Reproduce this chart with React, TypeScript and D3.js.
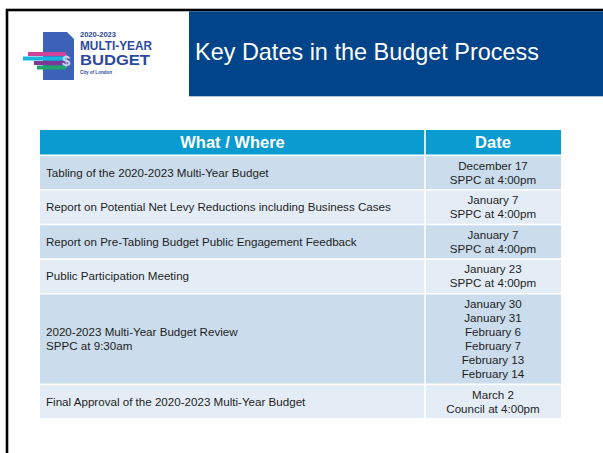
import React from "react";
import * as d3 from "d3";

const title = "Key Dates in the Budget Process";
const headers = ["What / Where", "Date"];
const events: string[][] = [
  ["Tabling of the 2020-2023 Multi-Year Budget"],
  ["Report on Potential Net Levy Reductions including Business Cases"],
  ["Report on Pre-Tabling Budget Public Engagement Feedback"],
  ["Public Participation Meeting"],
  ["2020-2023 Multi-Year Budget Review", "SPPC at 9:30am"],
  ["Final Approval of the 2020-2023 Multi-Year Budget"],
];
const dates: string[][] = [
  ["December 17", "SPPC at 4:00pm"],
  ["January 7", "SPPC at 4:00pm"],
  ["January 7", "SPPC at 4:00pm"],
  ["January 23", "SPPC at 4:00pm"],
  ["January 30", "January 31", "February 6", "February 7", "February 13", "February 14"],
  ["March 2", "Council at 4:00pm"],
];
const logoLines = ["2020-2023", "MULTI-YEAR", "BUDGET", "City of London"];

const W = 603;
const H = 453;
const FONT = "'Liberation Sans', Arial, sans-serif";

export default function App() {
  const tableX = 40;
  const splitX = 425;
  const tableR = 561;
  const headerTop = 130;
  const headerH = 24.5;
  const gap = 1.6;
  const lineH = 14;
  const bodySize = 11.6;

  const rowHeights = events.map((e, i) => Math.max(e.length, dates[i].length) * lineH + 5);
  const rowTops: number[] = [];
  let y = headerTop + headerH + gap;
  rowHeights.forEach((h) => {
    rowTops.push(y);
    y += h + gap;
  });

  const colX = d3.scaleOrdinal<string, number>().domain(headers).range([tableX, splitX]);
  const colW = (k: number) => (k === 0 ? splitX - tableX : tableR - splitX);

  const stripeColors = ["#d0439a", "#19b4e0", "#7c3a96", "#22a36b"];

  return (
    <svg width={W} height={H} style={{ position: "absolute", left: 0, top: 0, background: "#fff" }}>
      <rect x={0} y={0} width={W} height={H} fill="#fff" />
      {/* slide frame */}
      <rect x={7} y={10} width={W + 20} height={H + 20} fill="none" stroke="#000" strokeWidth={2.6} />
      {/* title banner */}
      <rect x={189} y={11.3} width={W - 189} height={85} fill="#01448a" />
      <text x={195} y={60} fill="#fff" fontFamily={FONT} fontSize={24} textLength={344} lengthAdjust="spacingAndGlyphs">
        {title}
      </text>

      {/* logo */}
      <g>
        <path d="M43,32 L67,32 L74,39 L74,80 L43,80 Z" fill="#3b62b6" />
        {stripeColors.map((c, i) => (
          <path
            key={i}
            d={`M${28 + (i === 1 ? -5 : i * 3)},${52 + i * 4.5} L66,${52 + i * 4.5} L66,${56 + i * 4.5} L${28 + (i === 1 ? -5 : i * 3)},${56 + i * 4.5} Z`}
            fill={c}
          />
        ))}
        <text x={62} y={66} fill="#c9d3f0" fontFamily={FONT} fontWeight="bold" fontSize={15}>$</text>
        <text x={80} y={37} fill="#2b4a9e" fontFamily={FONT} fontWeight="bold" fontSize={6.5} textLength={36} lengthAdjust="spacingAndGlyphs">{logoLines[0]}</text>
        <text x={80} y={50} fill="#2b4a9e" fontFamily={FONT} fontWeight="bold" fontSize={12} textLength={72} lengthAdjust="spacingAndGlyphs">{logoLines[1]}</text>
        <text x={80} y={65} fill="#2b4a9e" fontFamily={FONT} fontWeight="bold" fontSize={14} textLength={70} lengthAdjust="spacingAndGlyphs">{logoLines[2]}</text>
        <text x={80} y={74} fill="#2b4a9e" fontFamily={FONT} fontWeight="bold" fontSize={5.5} textLength={32} lengthAdjust="spacingAndGlyphs">{logoLines[3]}</text>
      </g>

      {/* table header */}
      {headers.map((h, k) => (
        <g key={h}>
          <rect x={colX(h) + (k ? gap / 2 : 0)} y={headerTop} width={colW(k) - gap / 2} height={headerH} fill="#0a9bd0" />
          <text
            x={colX(h) + colW(k) / 2}
            y={headerTop + headerH / 2 + 6}
            textAnchor="middle"
            fill="#fff"
            fontFamily={FONT}
            fontWeight="bold"
            fontSize={16.5}
          >
            {h}
          </text>
        </g>
      ))}

      {/* table body */}
      {events.map((ev, i) => {
        const top = rowTops[i];
        const h = rowHeights[i];
        const fill = i % 2 === 0 ? "#cbdcec" : "#e4edf6";
        const cy = top + h / 2;
        const dl = dates[i];
        return (
          <g key={i}>
            <rect x={tableX} y={top} width={splitX - tableX - gap / 2} height={h} fill={fill} />
            <rect x={splitX + gap / 2} y={top} width={tableR - splitX - gap / 2} height={h} fill={fill} />
            {ev.map((t, j) => (
              <text
                key={j}
                x={tableX + 6}
                y={cy - ((ev.length - 1) * lineH) / 2 + j * lineH + 4}
                fill="#1e1e1e"
                fontFamily={FONT}
                fontSize={bodySize}
              >
                {t}
              </text>
            ))}
            {dl.map((t, j) => (
              <text
                key={j}
                x={(splitX + tableR) / 2}
                y={cy - ((dl.length - 1) * lineH) / 2 + j * lineH + 4}
                textAnchor="middle"
                fill="#1e1e1e"
                fontFamily={FONT}
                fontSize={bodySize}
              >
                {t}
              </text>
            ))}
          </g>
        );
      })}
    </svg>
  );
}
